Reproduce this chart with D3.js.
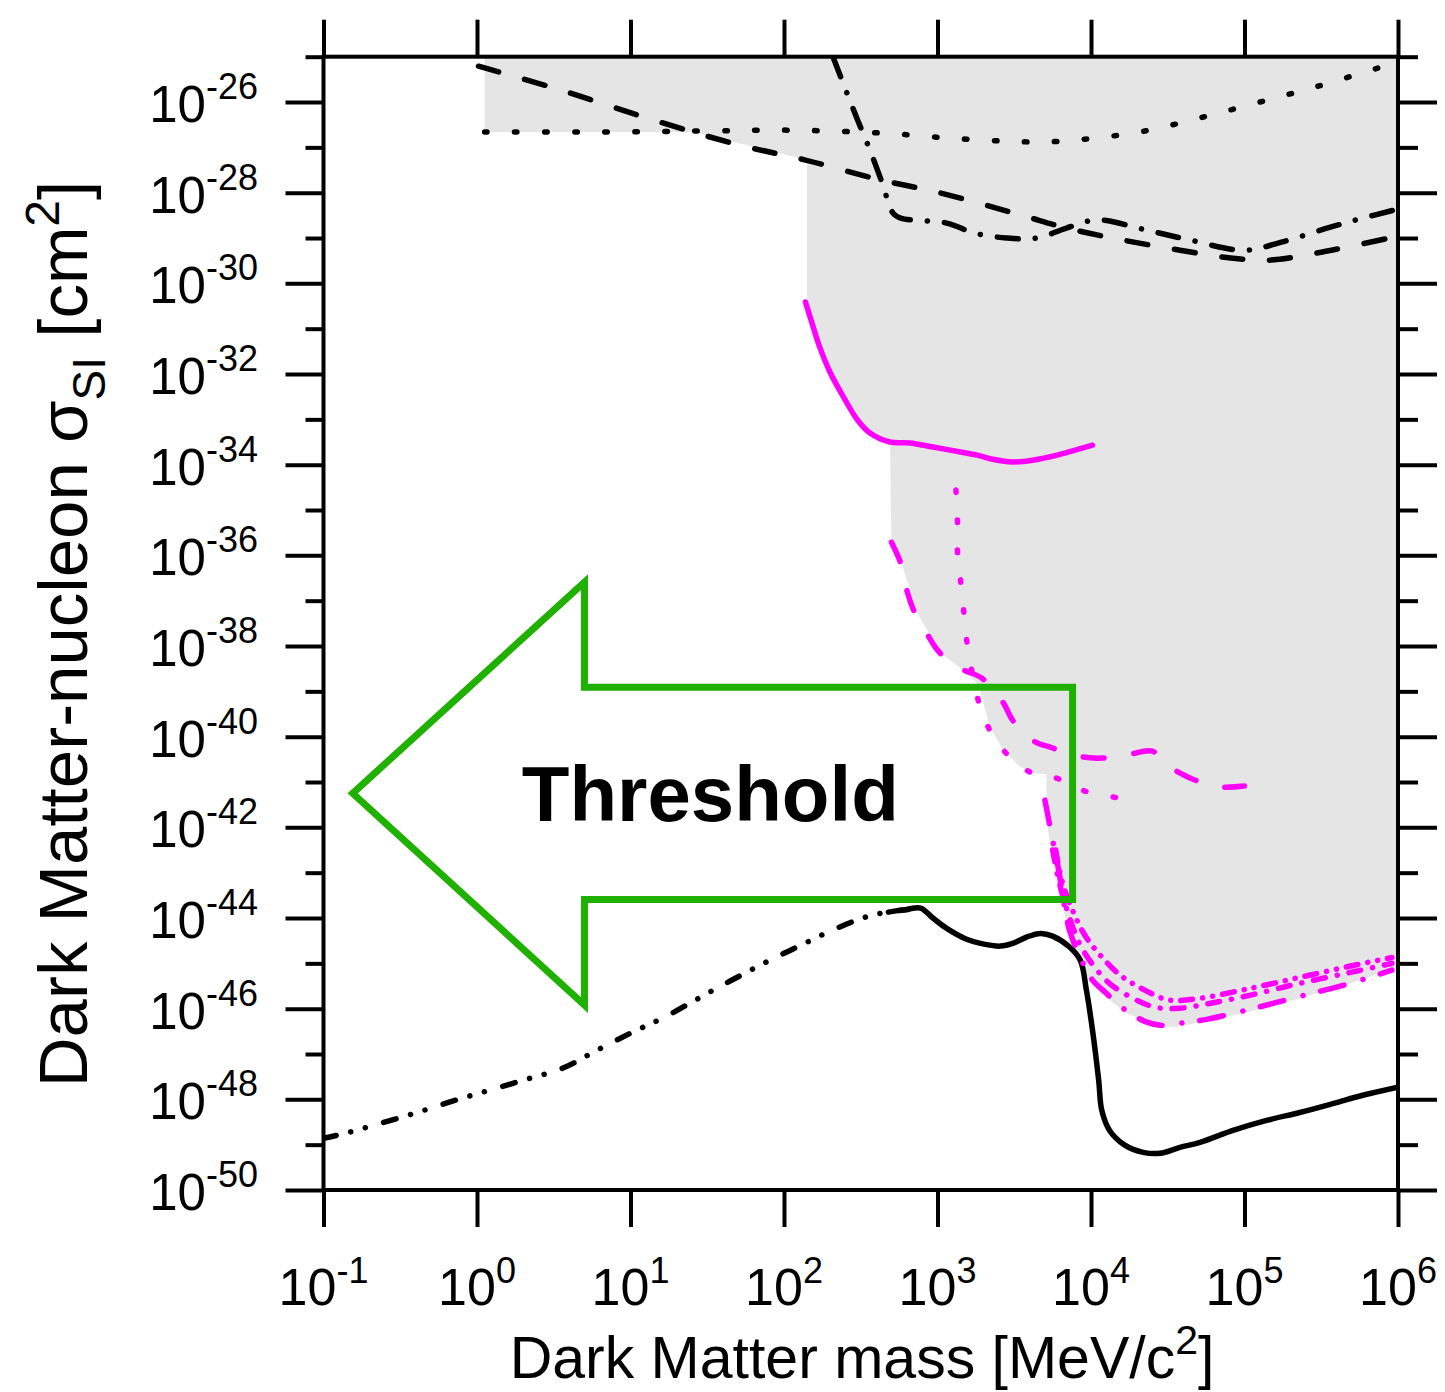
<!DOCTYPE html>
<html>
<head>
<meta charset="utf-8">
<script src="https://cdn.jsdelivr.net/npm/d3@7"></script>
<style>
  body { margin: 0; background: #fff; }
  svg { display: block; font-family: "Liberation Sans", Arial, sans-serif; }
</style>
</head>
<body>
<svg id="chart"></svg>
<script>
// decades shown on the axes (log10 values)
const xTickExps = [-1, 0, 1, 2, 3, 4, 5, 6];
const yTickExps = d3.range(-50, -24);
const yLabelExps = [-26, -28, -30, -32, -34, -36, -38, -40, -42, -44, -46, -48, -50];

// every curve: [log10 mass (MeV/c^2), log10 sigma (cm^2)]
const blackDashed = [[0.01,-25.21],[0.54,-25.73],[1.19,-26.44],[1.71,-26.95],[2.14,-27.28],[2.63,-27.72],[3.0,-27.99],[3.54,-28.49],[3.84,-28.78],[4.14,-29.0],[4.58,-29.27],[4.91,-29.44],[5.15,-29.49],[5.47,-29.33],[6.0,-28.96]];
const blackDotted = [[0.05,-26.66],[0.8,-26.66],[1.45,-26.64],[2.02,-26.62],[2.61,-26.68],[3.19,-26.82],[3.67,-26.88],[3.96,-26.82],[4.35,-26.64],[4.71,-26.35],[5.1,-26.0],[5.48,-25.65],[5.85,-25.27],[5.99,-25.14]];
const blackDashDot = [[2.32,-25.01],[2.41,-25.8],[2.48,-26.4],[2.56,-27.06],[2.64,-27.79],[2.71,-28.45],[2.76,-28.56],[3.06,-28.67],[3.24,-28.89],[3.45,-29.0],[3.65,-29.0],[3.84,-28.78],[4.04,-28.6],[4.33,-28.8],[4.64,-29.04],[5.0,-29.27],[5.24,-29.09],[5.52,-28.8],[5.75,-28.58],[6.0,-28.36]];
const blackDashDotDot = [[-1.0,-48.86],[-0.86,-48.75],[-0.63,-48.53],[-0.39,-48.29],[-0.16,-48.04],[0.08,-47.8],[0.32,-47.56],[0.56,-47.31],[0.78,-46.92],[1.0,-46.54],[1.22,-46.19],[1.54,-45.59],[1.88,-44.98],[2.11,-44.6],[2.34,-44.23],[2.57,-43.94],[2.81,-43.81]];
const blackSolid = [[2.68,-43.87],[2.8,-43.81],[2.89,-43.78],[2.97,-44.0],[3.06,-44.23],[3.19,-44.47],[3.28,-44.56],[3.41,-44.62],[3.49,-44.56],[3.58,-44.42],[3.67,-44.34],[3.75,-44.4],[3.86,-44.64],[3.93,-44.93],[3.97,-45.59],[4.01,-46.48],[4.05,-47.58],[4.07,-48.24],[4.12,-48.68],[4.22,-49.01],[4.34,-49.17],[4.45,-49.19],[4.58,-49.06],[4.71,-48.95],[4.93,-48.68],[5.15,-48.46],[5.36,-48.29],[5.58,-48.09],[5.77,-47.91],[6.0,-47.73]];

const magentaSolid = [[2.14,-30.41],[2.18,-30.85],[2.23,-31.38],[2.3,-31.96],[2.38,-32.46],[2.48,-33.02],[2.56,-33.3],[2.69,-33.5],[2.82,-33.52],[2.97,-33.61],[3.15,-33.72],[3.26,-33.79],[3.36,-33.88],[3.49,-33.94],[3.62,-33.9],[3.78,-33.79],[4.01,-33.57]];
const magentaDashed = [[2.7,-35.71],[2.76,-36.17],[2.8,-36.77],[2.85,-37.25],[2.93,-37.72],[3.0,-38.09],[3.08,-38.36],[3.17,-38.53],[3.29,-38.71],[3.43,-39.26],[3.49,-39.64],[3.62,-40.08],[3.75,-40.25],[3.95,-40.45],[4.08,-40.47],[4.25,-40.39],[4.4,-40.32],[4.53,-40.7],[4.68,-40.96],[4.84,-41.11],[5.0,-41.09]];
const magentaDotted = [[3.12,-34.56],[3.13,-35.22],[3.13,-35.89],[3.15,-36.55],[3.17,-37.21],[3.19,-37.87],[3.22,-38.49],[3.26,-39.13],[3.32,-39.72],[3.43,-40.3],[3.59,-40.76],[3.78,-40.92],[3.96,-41.2],[4.16,-41.34]];
const magentaLongDashDot = [[3.7,-41.4],[3.75,-42.28],[3.79,-42.95],[3.82,-43.61],[3.86,-44.27],[3.93,-44.87],[4.01,-45.37],[4.1,-45.66],[4.18,-45.92],[4.35,-46.28],[4.47,-46.37],[4.58,-46.32],[4.76,-46.23],[5.04,-46.01],[5.36,-45.73],[5.69,-45.44],[5.96,-45.15]];
const magentaDashDot = [[3.75,-42.5],[3.79,-43.17],[3.85,-43.89],[3.93,-44.6],[4.03,-45.11],[4.12,-45.44],[4.25,-45.73],[4.42,-45.97],[4.58,-45.99],[4.78,-45.88],[5.04,-45.7],[5.36,-45.44],[5.69,-45.2],[5.96,-45.0]];
const magentaDashDotDot = [[3.77,-42.5],[3.81,-43.17],[3.88,-43.83],[3.96,-44.38],[4.06,-44.82],[4.19,-45.26],[4.35,-45.59],[4.51,-45.81],[4.71,-45.77],[5.04,-45.55],[5.36,-45.31],[5.69,-45.06],[5.96,-44.87]];

// excluded region (grey envelope)
const excludedRegion = [[0.05,-25.0],[0.05,-26.66],[1.41,-26.66],[2.15,-27.28],[2.15,-30.37],[2.18,-30.85],[2.23,-31.38],[2.3,-31.96],[2.38,-32.46],[2.48,-33.02],[2.56,-33.3],[2.69,-33.5],[2.7,-35.71],[2.76,-36.11],[2.87,-37.28],[3.02,-38.16],[3.15,-38.49],[3.26,-38.82],[3.29,-39.13],[3.34,-39.79],[3.43,-40.3],[3.54,-40.67],[3.65,-40.81],[3.71,-40.83],[3.71,-41.84],[3.75,-42.73],[3.8,-43.39],[3.84,-44.12],[3.91,-45.0],[4.04,-45.59],[4.23,-46.1],[4.45,-46.37],[4.55,-46.41],[4.71,-46.3],[5.04,-46.06],[5.36,-45.77],[5.69,-45.44],[6.0,-45.09],[6.0,-25.0]];

// "Threshold" arrow outline
const arrowOutline = [[-0.81,-41.25],[0.7,-36.59],[0.7,-38.91],[3.88,-38.91],[3.88,-43.59],[0.7,-43.59],[0.7,-45.92]];
const arrowLabel = { text: "Threshold", at: [1.52, -41.25] };

const width = 1445;
const height = 1392;
const plot = { left: 323.5, right: 1398, top: 56.7, bottom: 1190 };

const svg = d3.select("#chart").attr("width", width).attr("height", height);

const x = d3.scaleLog().domain([1e-1, 1e6]).range([plot.left, plot.right]);
const y = d3.scaleLog().domain([1e-50, 1e-25]).range([plot.bottom, plot.top]);

const line = d3.line()
  .x((d) => x(10 ** d[0]))
  .y((d) => y(10 ** d[1]))
  .curve(d3.curveCatmullRom.alpha(0.5));

svg.append("clipPath").attr("id", "plot-clip")
  .append("rect")
  .attr("x", plot.left).attr("y", plot.top)
  .attr("width", plot.right - plot.left).attr("height", plot.bottom - plot.top);

const inner = svg.append("g").attr("clip-path", "url(#plot-clip)");

// grey region
inner.append("path")
  .datum(excludedRegion)
  .attr("d", d3.line().x((d) => x(10 ** d[0])).y((d) => y(10 ** d[1])))
  .attr("fill", "#e5e5e5");

const curves = [
  { data: blackDotted, color: "#000", dash: "2.5,27.5" },
  { data: blackDashed, color: "#000", dash: "21,27" },
  { data: blackDashDot, color: "#000", dash: "21,17,0.1,17" },
  { data: blackDashDotDot, color: "#000", dash: "13,15,0.1,15,0.1,19" },
  { data: blackSolid, color: "#000", dash: null },
  { data: magentaSolid, color: "#ff00ff", dash: null },
  { data: magentaDashed, color: "#ff00ff", dash: "21,30" },
  { data: magentaDotted, color: "#ff00ff", dash: "2.5,27.5" },
  { data: magentaLongDashDot, color: "#ff00ff", dash: "24,20,0.1,18" },
  { data: magentaDashDot, color: "#ff00ff", dash: "12,12,0.1,12" },
  { data: magentaDashDotDot, color: "#ff00ff", dash: "12,10,0.1,10,0.1,10" },
];

inner.selectAll("path.curve")
  .data(curves)
  .join("path")
  .attr("class", "curve")
  .attr("d", (d) => line(d.data))
  .attr("fill", "none")
  .attr("stroke", (d) => d.color)
  .attr("stroke-width", 5.5)
  .attr("stroke-linecap", "round")
  .attr("stroke-linejoin", "round")
  .attr("stroke-dasharray", (d) => d.dash);

// threshold arrow
svg.append("path")
  .datum(arrowOutline)
  .attr("d", d3.line().x((d) => x(10 ** d[0])).y((d) => y(10 ** d[1]))(arrowOutline) + "Z")
  .attr("fill", "none")
  .attr("stroke", "#1fb000")
  .attr("stroke-width", 7)
  .attr("stroke-linejoin", "miter")
  .attr("stroke-miterlimit", 10);

svg.append("text")
  .attr("x", x(10 ** arrowLabel.at[0]))
  .attr("y", y(10 ** arrowLabel.at[1]))
  .attr("dy", "0.36em")
  .attr("text-anchor", "middle")
  .attr("font-size", 78)
  .attr("font-weight", "bold")
  .text(arrowLabel.text);

// frame and ticks
const axisStyle = (g) => {
  g.select(".domain").remove();
  g.selectAll(".tick line").attr("stroke", "#000").attr("stroke-width", 4);
  g.selectAll(".tick text").remove();
};
const xTicks = xTickExps.map((e) => 10 ** e);
const yTicks = yTickExps.map((e) => 10 ** e);
const isMajorY = (v) => Math.round(Math.log10(v)) % 2 === 0;

svg.append("g").attr("transform", `translate(0,${plot.bottom})`)
  .call(d3.axisBottom(x).tickValues(xTicks).tickSize(37)).call(axisStyle);
svg.append("g").attr("transform", `translate(0,${plot.top})`)
  .call(d3.axisTop(x).tickValues(xTicks).tickSize(37)).call(axisStyle);
svg.append("g").attr("transform", `translate(${plot.left},0)`)
  .call(d3.axisLeft(y).tickValues(yTicks).tickSize(38)).call(axisStyle)
  .selectAll(".tick line").attr("x2", (d) => (isMajorY(d) ? -38 : -18));
svg.append("g").attr("transform", `translate(${plot.right},0)`)
  .call(d3.axisRight(y).tickValues(yTicks).tickSize(38)).call(axisStyle)
  .selectAll(".tick line").attr("x2", (d) => (isMajorY(d) ? 39 : 20));

svg.append("rect")
  .attr("x", plot.left).attr("y", plot.top)
  .attr("width", plot.right - plot.left).attr("height", plot.bottom - plot.top)
  .attr("fill", "none").attr("stroke", "#000").attr("stroke-width", 4);

// tick labels
const xLabels = svg.append("g").selectAll("text")
  .data(xTickExps).join("text")
  .attr("x", (e) => x(10 ** e))
  .attr("y", plot.bottom + 115)
  .attr("text-anchor", "middle")
  .attr("font-size", 52);
xLabels.append("tspan").text("10");
xLabels.append("tspan").attr("dy", -22).attr("font-size", 36).text((e) => String(e));

const yLabels = svg.append("g").selectAll("text")
  .data(yLabelExps).join("text")
  .attr("x", 258)
  .attr("y", (e) => y(10 ** e) + 20)
  .attr("text-anchor", "end")
  .attr("font-size", 51);
yLabels.append("tspan").text("10");
yLabels.append("tspan").attr("dy", -23).attr("font-size", 36).text((e) => String(e));

// axis titles
const xTitle = svg.append("text")
  .attr("x", 862).attr("y", 1378)
  .attr("text-anchor", "middle")
  .attr("font-size", 59);
xTitle.append("tspan").text("Dark Matter mass [MeV/c");
xTitle.append("tspan").attr("dy", -24).attr("font-size", 41).text("2");
xTitle.append("tspan").attr("dy", 24).text("]");

const yTitle = svg.append("text")
  .attr("transform", "translate(87,634) rotate(-90)")
  .attr("text-anchor", "middle")
  .attr("font-size", 69);
yTitle.append("tspan").text("Dark Matter-nucleon σ");
yTitle.append("tspan").attr("dy", 18).attr("font-size", 46).text("SI");
yTitle.append("tspan").attr("dy", -18).text(" [cm");
yTitle.append("tspan").attr("dy", -28).attr("font-size", 48).text("2");
yTitle.append("tspan").attr("dy", 28).text("]");
</script>
</body>
</html>
